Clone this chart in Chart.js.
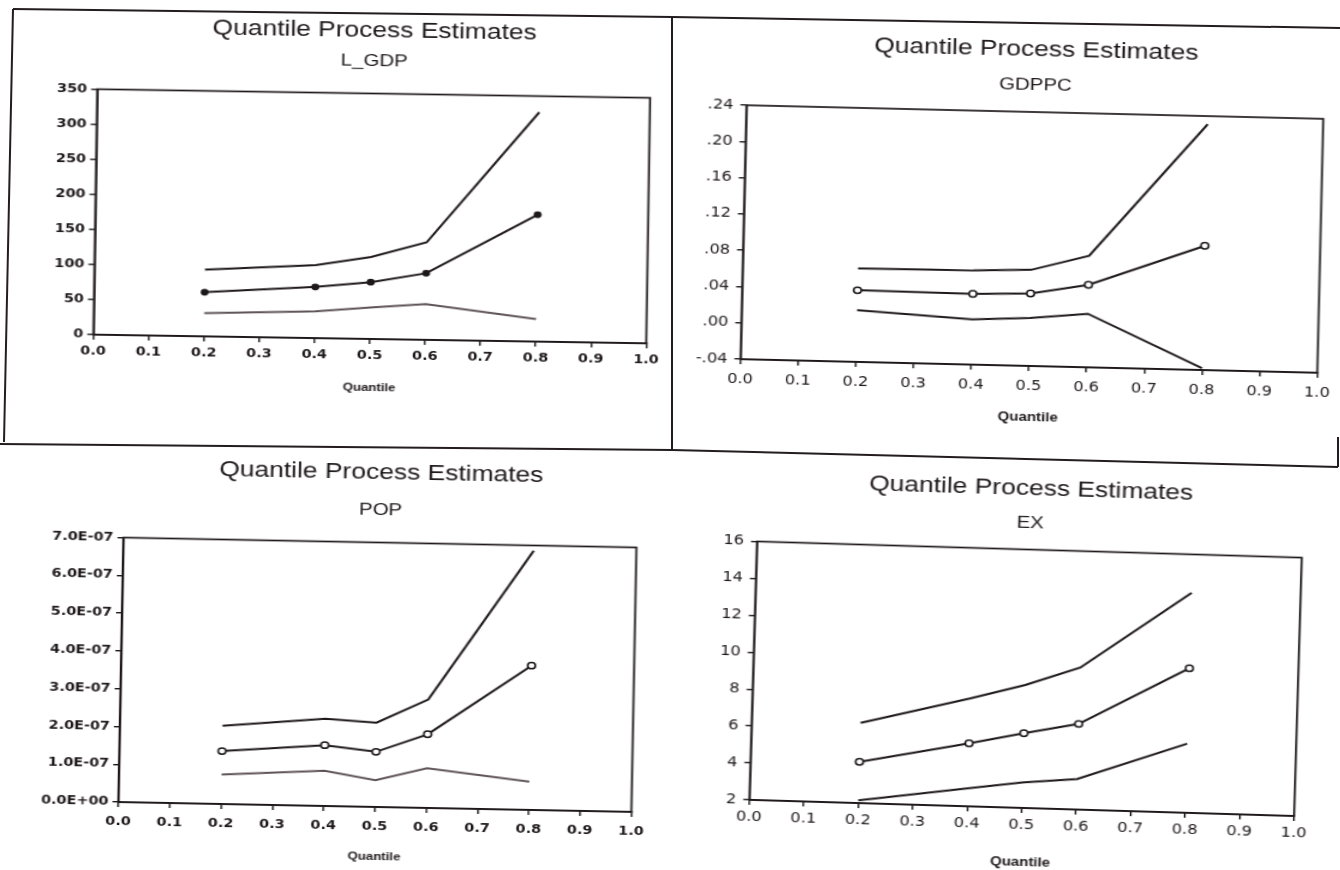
<!DOCTYPE html>
<html>
<head>
<meta charset="utf-8">
<title>Quantile Process Estimates</title>
<script src="https://cdn.jsdelivr.net/npm/chart.js@4.4.1/dist/chart.umd.min.js"></script>
<style>
  html, body { margin: 0; padding: 0; background: #ffffff; }
  body { width: 1340px; height: 870px; position: relative; overflow: hidden; }
  .panel { position: absolute; transform-origin: 50% 50%; }
  .panel canvas { display: block; }
  svg.frame { position: absolute; left: 0; top: 0; }
</style>
</head>
<body>
<svg class="frame" width="1340" height="870">
  <g fill="none" stroke="#231c20" stroke-width="2">
    <polyline points="13,9 672,17 1340,28"/>
    <line x1="13" y1="9" x2="4" y2="442"/>
    <line x1="672" y1="17" x2="672" y2="450"/>
    <polyline points="0,444 672,450 1338,467"/>
    <line x1="1338" y1="437" x2="1338" y2="467"/>
  </g>
</svg>

<div class="panel" id="pTL"><canvas id="cTL"></canvas></div>
<div class="panel" id="pTR"><canvas id="cTR"></canvas></div>
<div class="panel" id="pBL"><canvas id="cBL"></canvas></div>
<div class="panel" id="pBR"><canvas id="cBR"></canvas></div>

<script>
// Quantiles at which each coefficient was estimated
const quantiles = [0.2, 0.4, 0.5, 0.6, 0.8];
const quantileTicks = [0.0, 0.1, 0.2, 0.3, 0.4, 0.5, 0.6, 0.7, 0.8, 0.9, 1.0];

// L_GDP coefficient with its upper and lower bands
const lgdpEstimate = [63, 73, 81, 95, 181];
const lgdpUpper    = [95, 104, 117, 139, 327];
const lgdpLower    = [33, 38, 45, 51, 32];
const lgdpTicks    = [0, 50, 100, 150, 200, 250, 300, 350];

// GDPPC coefficient
const gdppcEstimate = [0.039, 0.038, 0.040, 0.051, 0.097];
const gdppcUpper    = [0.063, 0.064, 0.066, 0.083, 0.231];
const gdppcLower    = [0.017, 0.010, 0.013, 0.019, -0.038];
const gdppcTicks    = [-0.04, 0.00, 0.04, 0.08, 0.12, 0.16, 0.20, 0.24];

// POP coefficient
const popEstimate = [1.40e-7, 1.61e-7, 1.46e-7, 1.95e-7, 3.82e-7];
const popUpper    = [2.07e-7, 2.31e-7, 2.23e-7, 2.87e-7, 6.86e-7];
const popLower    = [0.78e-7, 0.93e-7, 0.71e-7, 1.05e-7, 0.75e-7];
const popTicks    = [0, 1e-7, 2e-7, 3e-7, 4e-7, 5e-7, 6e-7, 7e-7];

// EX coefficient
const exEstimate = [4.23, 5.41, 6.05, 6.64, 9.83];
const exUpper    = [6.35, 7.85, 8.66, 9.69, 13.92];
const exLower    = [2.15, 2.97, 3.38, 3.65, 5.74];
const exTicks    = [2, 4, 6, 8, 10, 12, 14, 16];

const INK = '#1e181b';
const GREY = '#5e5358';
const STRETCH = 1.2;   // printed graphs are a little wider than the typeface

const fmtInt = v => String(Math.round(v));
const fmtDot = v => (v < -1e-9 ? '-' : '') + Math.abs(v).toFixed(2).replace(/^0/, '');
const fmtSci = v => v.toExponential(1).toUpperCase().replace(/E([+-])(\d)$/, 'E$10$2');

// Draws the closed frame around the plotting area
const plotFrame = {
  id: 'plotFrame',
  afterDatasetsDraw(chart) {
    const a = chart.chartArea, ctx = chart.ctx;
    ctx.save();
    ctx.strokeStyle = INK;
    ctx.lineWidth = 1.7;
    ctx.strokeRect(a.left, a.top, a.right - a.left, a.bottom - a.top);
    ctx.restore();
  }
};

const pts = ys => quantiles.map((q, i) => ({ x: q, y: ys[i] }));

function buildPanel(panelId, canvasId, spec) {
  const titleSize = 22, subSize = 17, quantSize = spec.quantSize, tickSize = spec.tickSize;
  const tLH = titleSize * 1.2, sLH = subSize * 1.2, qLH = quantSize * 1.2, kLH = tickSize * 1.2;

  const plotW = (spec.x1 - spec.x0) / STRETCH;
  const marginC = spec.margin / STRETCH;
  const w = Math.round(2 * marginC + plotW);
  const top = Math.round(spec.titleY - 22);
  const h = Math.round(spec.quantY + 12 - top);
  const cx = (spec.x0 + spec.x1) / 2;

  const gl = marginC, gr = marginC + plotW;
  const gt = spec.y0 - top, gb = spec.y1 - top;
  const titleY = spec.titleY - top, subY = spec.subY - top, quantY = spec.quantY - top;
  const axisBottom = quantY + qLH / 2;

  const panel = document.getElementById(panelId);
  panel.style.left = (cx - w / 2) + 'px';
  panel.style.top = top + 'px';
  panel.style.width = w + 'px';
  panel.style.height = h + 'px';
  panel.style.transform = 'rotate(' + spec.rot + 'deg) scaleX(' + STRETCH + ')';

  const canvas = document.getElementById(canvasId);
  canvas.width = w;
  canvas.height = h;
  canvas.style.width = w + 'px';
  canvas.style.height = h + 'px';

  const tickFont = { family: "'DejaVu Sans', sans-serif", size: tickSize, weight: spec.boldTicks ? 'bold' : 'normal' };
  const xPad = (spec.xlabY - spec.y1) - 5 - kLH / 2;
  const yPad = spec.yGap / STRETCH - 5;

  const line = (data, color, extra) => Object.assign({
    data: pts(data), borderColor: color, borderWidth: 2,
    pointRadius: 0, tension: 0, fill: false
  }, extra || {});

  new Chart(canvas, {
    type: 'line',
    data: {
      datasets: [
        line(spec.upper, INK),
        line(spec.estimate, INK, {
          pointRadius: spec.filled ? 2.6 : 3.2, pointBorderWidth: 1.5, pointStyle: 'circle',
          pointBorderColor: INK, pointBackgroundColor: spec.filled ? INK : '#ffffff'
        }),
        line(spec.lower, spec.lowerColor)
      ]
    },
    options: {
      responsive: false,
      animation: false,
      events: [],
      layout: { padding: { left: 0, top: 0, right: w - gr, bottom: h - axisBottom } },
      plugins: {
        legend: { display: false },
        tooltip: { enabled: false },
        title: {
          display: true, fullSize: false, text: 'Quantile Process Estimates', color: INK,
          font: { family: "'Liberation Sans', Arial, sans-serif", size: titleSize, weight: 'normal' },
          padding: { top: titleY - tLH / 2, bottom: (subY - sLH / 2) - (titleY + tLH / 2) }
        },
        subtitle: {
          display: true, fullSize: false, text: spec.name, color: INK,
          font: { family: "'Liberation Sans', Arial, sans-serif", size: subSize, weight: 'normal' },
          padding: { top: 0, bottom: gt - (subY + sLH / 2) }
        }
      },
      scales: {
        x: {
          type: 'linear',
          min: quantileTicks[0], max: quantileTicks[quantileTicks.length - 1],
          afterBuildTicks: s => { s.ticks = quantileTicks.map(v => ({ value: v })); },
          afterFit: s => { s.height = axisBottom - gb; },
          ticks: { callback: v => v.toFixed(1), color: INK, font: tickFont, padding: xPad, maxRotation: 0, autoSkip: false },
          grid: { drawOnChartArea: false, tickLength: 5, color: INK, lineWidth: 1.4 },
          border: { display: true, color: INK, width: 1.7 },
          title: {
            display: true, text: 'Quantile', color: INK,
            font: { family: "'Liberation Sans', Arial, sans-serif", size: quantSize, weight: 'bold' },
            padding: { top: 0, bottom: 0 }
          }
        },
        y: {
          type: 'linear',
          min: spec.ticks[0], max: spec.ticks[spec.ticks.length - 1],
          afterBuildTicks: s => { s.ticks = spec.ticks.map(v => ({ value: v })); },
          afterFit: s => { s.width = gl; },
          ticks: { callback: spec.fmt, color: INK, font: tickFont, padding: yPad, autoSkip: false },
          grid: { drawOnChartArea: false, tickLength: 5, color: INK, lineWidth: 1.4 },
          border: { display: true, color: INK, width: 1.7 }
        }
      }
    },
    plugins: [plotFrame]
  });
}

buildPanel('pTL', 'cTL', {
  name: 'L_GDP', estimate: lgdpEstimate, upper: lgdpUpper, lower: lgdpLower,
  ticks: lgdpTicks, fmt: fmtInt, filled: true, lowerColor: GREY, boldTicks: true,
  tickSize: 12, quantSize: 11,
  x0: 95, x1: 648, y0: 93.5, y1: 339, margin: 75,
  titleY: 30.5, subY: 61, quantY: 388, xlabY: 356, yGap: 10, rot: 0.9
});
buildPanel('pTR', 'cTR', {
  name: 'GDPPC', estimate: gdppcEstimate, upper: gdppcUpper, lower: gdppcLower,
  ticks: gdppcTicks, fmt: fmtDot, filled: false, lowerColor: INK, boldTicks: false,
  tickSize: 13.5, quantSize: 12.5,
  x0: 743, x1: 1320, y0: 112, y1: 366, margin: 62,
  titleY: 50, subY: 85, quantY: 418, xlabY: 386, yGap: 13, rot: 1.35
});
buildPanel('pBL', 'cBL', {
  name: 'POP', estimate: popEstimate, upper: popUpper, lower: popLower,
  ticks: popTicks, fmt: fmtSci, filled: false, lowerColor: GREY, boldTicks: true,
  tickSize: 12, quantSize: 11,
  x0: 121, x1: 634, y0: 542.5, y1: 807, margin: 102,
  titleY: 473, subY: 510, quantY: 857, xlabY: 827, yGap: 10, rot: 1.1
});
buildPanel('pBR', 'cBR', {
  name: 'EX', estimate: exEstimate, upper: exUpper, lower: exLower,
  ticks: exTicks, fmt: fmtInt, filled: false, lowerColor: INK, boldTicks: false,
  tickSize: 13.5, quantSize: 12.5,
  x0: 753, x1: 1298, y0: 549.5, y1: 808, margin: 62,
  titleY: 489, subY: 523, quantY: 863, xlabY: 825, yGap: 13, rot: 1.7
});
</script>
</body>
</html>
